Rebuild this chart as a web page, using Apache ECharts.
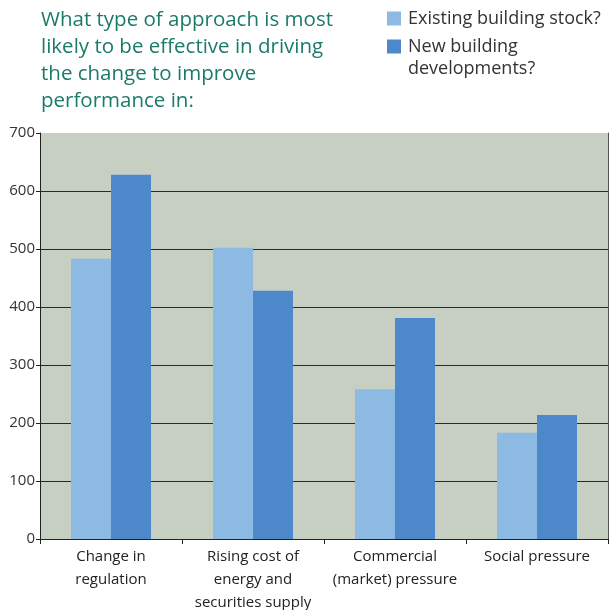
<!DOCTYPE html>
<html><head><meta charset="utf-8">
<script src="https://cdn.jsdelivr.net/npm/echarts@6/dist/echarts.min.js"></script>
<style>html,body{margin:0;padding:0;background:#fff}#c{width:613px;height:610px}</style>
</head><body><div id="c"></div>
<script>
const categories = ['Change in\nregulation', 'Rising cost of\nenergy and\nsecurities supply', 'Commercial\n(market) pressure', 'Social pressure'];
const existingStock = [483, 502, 258, 183];
const newDevelopments = [628, 428, 381, 214];
const seriesNames = ['Existing building stock?', 'New building\ndevelopments?'];
const titleText = 'What type of approach is most\nlikely to be effective in driving\nthe change to improve\nperformance in:';
const yTicks = [0, 100, 200, 300, 400, 500, 600, 700];

const chart = echarts.init(document.getElementById('c'), null, {renderer: 'canvas'});
const font = '"Open Sans", "Noto Sans", sans-serif';
const bg = '#c7cfc3';
const gridLineColors = yTicks.map((v, i) => i === yTicks.length - 1 ? bg : '#2a2a2a');
chart.setOption({
  animation: false,
  title: {
    text: titleText, left: 41, top: 7, padding: 0,
    textStyle: {color: '#1b7a68', fontSize: 20.5, fontWeight: 'normal', fontFamily: font, lineHeight: 27}
  },
  legend: [{
    left: 387, top: 7, padding: 0, itemWidth: 14, itemHeight: 14,
    icon: 'rect', textStyle: {color: '#333', fontSize: 18, fontFamily: font, lineHeight: 23, padding: [0,0,0,2]},
    data: [seriesNames[0]]
  }, {
    left: 387, top: 35.5, padding: 0, itemWidth: 14, itemHeight: 44,
    icon: 'path://M0,0H0.01V0.01H0Z M0,4H14V18H0Z M0,44H0.01V44.01H0Z',
    textStyle: {color: '#333', fontSize: 18, fontFamily: font, lineHeight: 22, padding: [0,0,0,2]},
    data: [seriesNames[1]]
  }],
  grid: {left: 40, right: 5, top: 133, bottom: 71, show: true, backgroundColor: bg, borderWidth: 0, outerBoundsMode: 'none', containLabel: false},
  xAxis: {
    type: 'category', data: categories,
    axisLine: {lineStyle: {color: '#222', width: 1}},
    axisTick: {show: true, length: 5, lineStyle: {color: '#222'}},
    axisLabel: {color: '#222', fontSize: 15, fontFamily: font, lineHeight: 23, margin: 6, interval: 0}
  },
  yAxis: [{
    type: 'value', min: 0, max: 700, interval: 100,
    axisLine: {show: true, lineStyle: {color: '#222', width: 1}},
    axisTick: {show: true, length: 4, lineStyle: {color: '#222'}},
    axisLabel: {color: '#333', fontSize: 15, fontFamily: font, margin: 5},
    splitLine: {show: true, lineStyle: {color: gridLineColors, width: 1}}
  }, {
    type: 'value', min: 0, max: 700, interval: 100, position: 'right',
    axisLine: {show: true, lineStyle: {color: '#555', width: 1}},
    axisTick: {show: false}, axisLabel: {show: false}, splitLine: {show: false}
  }],
  series: [
    {name: seriesNames[0], type: 'bar', data: existingStock, barWidth: 40, barGap: '0%', itemStyle: {color: '#8cbae2'}},
    {name: seriesNames[1], type: 'bar', data: newDevelopments, barWidth: 40, itemStyle: {color: '#4d88cb'}}
  ]
});
</script></body></html>
